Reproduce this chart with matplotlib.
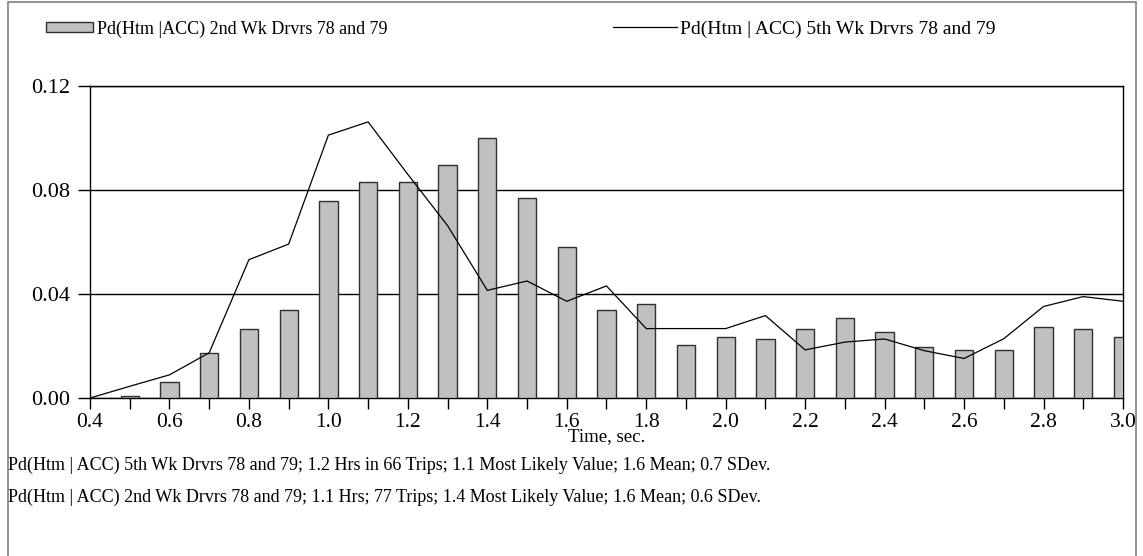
import matplotlib
matplotlib.use("Agg")
import matplotlib.pyplot as plt
from matplotlib.patches import Rectangle

plt.rcParams['font.family'] = ['Liberation Serif', 'DejaVu Serif']

# Data
bar_x = [0.5, 0.6, 0.7, 0.8, 0.9, 1.0, 1.1, 1.2, 1.3, 1.4, 1.5, 1.6, 1.7, 1.8,
         1.9, 2.0, 2.1, 2.2, 2.3, 2.4, 2.5, 2.6, 2.7, 2.8, 2.9, 3.0]
wk2_values = [0.0009, 0.0061, 0.0175, 0.0267, 0.0339, 0.0759, 0.0832, 0.0832,
              0.0895, 0.0999, 0.0770, 0.0579, 0.0338, 0.0360, 0.0205, 0.0236,
              0.0226, 0.0267, 0.0308, 0.0255, 0.0195, 0.0185, 0.0185, 0.0275,
              0.0267, 0.0236]
line_x = [0.4, 0.5, 0.6, 0.7, 0.8, 0.9, 1.0, 1.1, 1.2, 1.3, 1.4, 1.5, 1.6, 1.7,
          1.8, 1.9, 2.0, 2.1, 2.2, 2.3, 2.4, 2.5, 2.6, 2.7, 2.8, 2.9, 3.0]
wk5_values = [0.0, 0.0045, 0.0089, 0.0174, 0.0532, 0.0592, 0.1011, 0.1062,
              0.0860, 0.0663, 0.0414, 0.0450, 0.0372, 0.0431, 0.0267, 0.0267,
              0.0267, 0.0317, 0.0185, 0.0215, 0.0227, 0.0182, 0.0152, 0.0228,
              0.0352, 0.0390, 0.0372]
x_ticks = [0.4, 0.5, 0.6, 0.7, 0.8, 0.9, 1.0, 1.1, 1.2, 1.3, 1.4, 1.5, 1.6, 1.7,
           1.8, 1.9, 2.0, 2.1, 2.2, 2.3, 2.4, 2.5, 2.6, 2.7, 2.8, 2.9, 3.0]
x_tick_labels = ["0.4", "", "0.6", "", "0.8", "", "1.0", "", "1.2", "", "1.4", "",
                 "1.6", "", "1.8", "", "2.0", "", "2.2", "", "2.4", "", "2.6", "",
                 "2.8", "", "3.0"]
y_ticks = [0.00, 0.04, 0.08, 0.12]
y_tick_labels = ["0.00", "0.04", "0.08", "0.12"]

label_wk2 = "Pd(Htm |ACC) 2nd Wk Drvrs 78 and 79"
label_wk5 = "Pd(Htm | ACC) 5th Wk Drvrs 78 and 79"
x_title = "Time, sec."
note_wk5 = "Pd(Htm | ACC) 5th Wk Drvrs 78 and 79; 1.2 Hrs in 66 Trips; 1.1 Most Likely Value; 1.6 Mean; 0.7 SDev."
note_wk2 = "Pd(Htm | ACC) 2nd Wk Drvrs 78 and 79; 1.1 Hrs; 77 Trips; 1.4 Most Likely Value; 1.6 Mean; 0.6 SDev."

W, H = 1143, 556
fig = plt.figure(figsize=(W / 100, H / 100), dpi=100)

# outer frame (bottom edge falls outside the picture)
fig.patches.append(Rectangle((8 / W, -0.01), (1136 - 8) / W, (H - 2) / H + 0.01,
                             transform=fig.transFigure, fill=False,
                             edgecolor='#808080', linewidth=1.2))

ax = fig.add_axes([90 / W, (H - 398) / H, (1123 - 90) / W, (398 - 86) / H])

bars = ax.bar(bar_x, wk2_values, width=0.046, color='#c0c0c0', edgecolor='#303030',
              linewidth=1.0, zorder=3, label=label_wk2)
line, = ax.plot(line_x, wk5_values, color='black', linewidth=0.9, zorder=4, label=label_wk5)

ax.set_xlim(0.4, 3.0)
ax.set_ylim(0, 0.12)
ax.set_xticks(x_ticks)
ax.set_xticklabels(x_tick_labels)
ax.set_yticks(y_ticks)
ax.set_yticklabels(y_tick_labels)
ax.tick_params(axis='x', direction='out', length=8, width=1, labelsize=15.5, pad=3, colors='black')
ax.tick_params(axis='y', direction='out', length=9, width=1, labelsize=16, pad=5, colors='black')
ax.yaxis.grid(True, color='black', linewidth=1, zorder=1)
ax.set_axisbelow(True)
for s in ax.spines.values():
    s.set_color('black')
    s.set_linewidth(1)

ax.set_xlabel(x_title, fontsize=13.5)
ax.xaxis.label.set_va('center')
ax.xaxis.set_label_coords(0.5, (398 - 437) / (398 - 86))

# legends
fig.legend(handles=[bars], labels=[label_wk2], loc='center left',
           bbox_to_anchor=(46 / W, 1 - 29 / H), frameon=False, fontsize=13,
           borderpad=0, borderaxespad=0, handlelength=2.6, handleheight=0.45,
           handletextpad=0.25)
fig.legend(handles=[line], labels=[label_wk5], loc='center left',
           bbox_to_anchor=(613 / W, 1 - 29 / H), frameon=False, fontsize=14,
           borderpad=0, borderaxespad=0, handlelength=3.3, handletextpad=0.15)

fig.text(8 / W, 1 - 465 / H, note_wk5, fontsize=13, va='center', ha='left')
fig.text(8 / W, 1 - 497 / H, note_wk2, fontsize=13, va='center', ha='left')

fig.savefig("out.png", dpi=100)
